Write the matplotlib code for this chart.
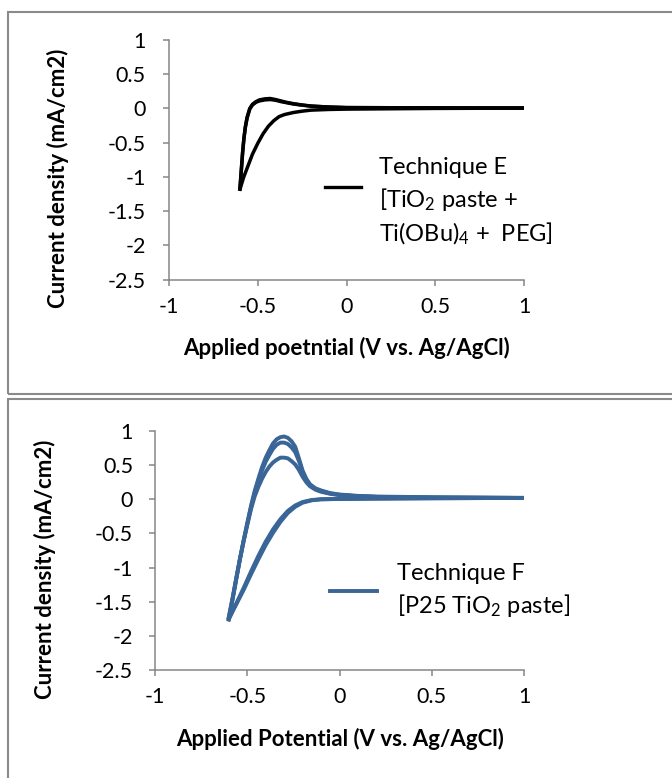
import matplotlib
matplotlib.use("Agg")
import matplotlib.pyplot as plt
from matplotlib.patches import Rectangle
from matplotlib.lines import Line2D
from matplotlib.legend_handler import HandlerLine2D

plt.rcParams['font.family'] = ['Lato', 'DejaVu Sans']
plt.rcParams['mathtext.fontset'] = 'custom'
plt.rcParams['mathtext.rm'] = 'Lato'
plt.rcParams['mathtext.it'] = 'Lato'
plt.rcParams['mathtext.bf'] = 'Lato:bold'

# ---- data ----
x_ticks = [-1, -0.5, 0, 0.5, 1]
x_tick_labels = ["-1", "-0.5", "0", "0.5", "1"]
y_ticks = [1, 0.5, 0, -0.5, -1, -1.5, -2, -2.5]
y_tick_labels = ["1", "0.5", "0", "-0.5", "-1", "-1.5", "-2", "-2.5"]

# Technique E : cathodic sweep (1 V -> -0.6 V)
E_cath_v = [1.0, 0.5, 0.0, -0.1, -0.2, -0.25, -0.3, -0.35, -0.38, -0.41,
            -0.44, -0.47, -0.5, -0.53, -0.555, -0.58, -0.6]
E_cath_i = [0.005, 0.0, -0.01, -0.015, -0.025, -0.04, -0.06, -0.09, -0.12, -0.18,
            -0.26, -0.37, -0.51, -0.67, -0.84, -1.01, -1.18]
# Technique E : return sweep (-0.6 V -> 1 V), two cycles
E_anod_v = [-0.6, -0.595, -0.59, -0.585, -0.578, -0.57, -0.56, -0.545, -0.53, -0.51,
            -0.49, -0.46, -0.43, -0.4, -0.37, -0.34, -0.3, -0.25, -0.2, -0.1,
            0.0, 0.5, 1.0]
E_anod1_i = [-1.18, -1.0, -0.82, -0.64, -0.44, -0.27, -0.13, 0.0, 0.06, 0.1,
             0.125, 0.14, 0.145, 0.13, 0.11, 0.09, 0.07, 0.05, 0.035, 0.02,
             0.012, 0.008, 0.005]
E_anod2_i = [-1.15, -0.98, -0.8, -0.63, -0.44, -0.28, -0.14, -0.01, 0.05, 0.09,
             0.11, 0.125, 0.13, 0.12, 0.1, 0.085, 0.065, 0.048, 0.033, 0.02,
             0.012, 0.008, 0.005]

# Technique F : cathodic sweeps
F_cath_v = [1.0, 0.5, 0.2, 0.0, -0.1, -0.15, -0.2, -0.24, -0.28, -0.32,
            -0.36, -0.4, -0.44, -0.48, -0.52, -0.56, -0.6]
F_cath1_i = [0.02, 0.015, 0.01, 0.005, 0.0, -0.01, -0.04, -0.09, -0.17, -0.29,
             -0.44, -0.62, -0.83, -1.06, -1.3, -1.53, -1.76]
F_cath2_i = [0.02, 0.015, 0.01, 0.005, 0.0, -0.015, -0.05, -0.11, -0.2, -0.33,
             -0.49, -0.67, -0.88, -1.1, -1.33, -1.54, -1.74]
# Technique F : return sweeps, three cycles
F_anod_v = [-0.6, -0.58, -0.56, -0.54, -0.52, -0.5, -0.48, -0.46, -0.44, -0.42,
            -0.4, -0.38, -0.36, -0.34, -0.32, -0.3, -0.28, -0.26, -0.24, -0.22,
            -0.2, -0.18, -0.16, -0.13, -0.1, -0.05, 0.0, 0.1, 0.2, 0.5, 1.0]
F_anod1_i = [-1.76, -1.48, -1.18, -0.88, -0.61, -0.35, -0.1, 0.12, 0.3, 0.47,
             0.61, 0.72, 0.82, 0.88, 0.91, 0.92, 0.9, 0.85, 0.77, 0.6,
             0.42, 0.3, 0.22, 0.16, 0.13, 0.09, 0.07, 0.05, 0.04, 0.03, 0.02]
F_anod2_i = [-1.74, -1.46, -1.17, -0.88, -0.61, -0.36, -0.12, 0.09, 0.26, 0.42,
             0.55, 0.65, 0.74, 0.8, 0.83, 0.83, 0.81, 0.76, 0.69, 0.56,
             0.4, 0.29, 0.21, 0.15, 0.12, 0.085, 0.065, 0.045, 0.035, 0.025, 0.02]
F_anod3_i = [-1.72, -1.45, -1.16, -0.88, -0.62, -0.38, -0.15, 0.04, 0.18, 0.3,
             0.4, 0.48, 0.54, 0.58, 0.61, 0.61, 0.6, 0.56, 0.51, 0.43,
             0.33, 0.25, 0.19, 0.14, 0.11, 0.08, 0.06, 0.045, 0.035, 0.025, 0.02]

E_label = "Technique E\n[TiO$_2$ paste +\nTi(OBu)$_4$ +  PEG]"
F_label = "Technique F\n[P25 TiO$_2$ paste]"

E_color = "black"
F_color = "#3A6597"
grey = "#868686"

W, H = 672, 778


class ShiftedLine(HandlerLine2D):
    """legend line moved up by dy points"""
    def __init__(self, dy=0, **kw):
        super().__init__(**kw)
        self.dy = dy

    def create_artists(self, legend, orig_handle, xdescent, ydescent,
                       width, height, fontsize, trans):
        return super().create_artists(legend, orig_handle, xdescent,
                                      ydescent - 2 * self.dy, width, height,
                                      fontsize, trans)


def px_axes(fig, left, top, right, bottom):
    return fig.add_axes([left / W, 1 - bottom / H, (right - left) / W, (bottom - top) / H])


def style_axes(ax, ypad):
    ax.set_xlim(-1, 1)
    ax.set_ylim(-2.5, 1)
    ax.set_xticks(x_ticks)
    ax.set_xticklabels(x_tick_labels)
    ax.set_yticks(y_ticks)
    ax.set_yticklabels(y_tick_labels)
    for s in ["top", "right"]:
        ax.spines[s].set_visible(False)
    for s in ["left", "bottom"]:
        ax.spines[s].set_color(grey)
        ax.spines[s].set_linewidth(1.1)
    ax.tick_params(direction="out", length=4.3, width=1.1, color=grey,
                   labelsize=15.5, labelcolor="black")
    ax.tick_params(axis="x", pad=8)
    ax.tick_params(axis="y", pad=ypad)


fig = plt.figure(figsize=(W / 100, H / 100), dpi=100)

# panel frames
fig.patches.append(Rectangle((8 / W, 1 - 394 / H), 1.2, (394 - 12) / H, transform=fig.transFigure,
                             fill=False, edgecolor="#8a8a8a", lw=1.5))
fig.patches.append(Rectangle((8 / W, -0.2), 1.2, 0.2 + 1 - 399 / H, transform=fig.transFigure,
                             fill=False, edgecolor="#8a8a8a", lw=1.5))

# ---- top panel: technique E ----
ax1 = px_axes(fig, 169, 40, 524, 279.5)
ax1.plot(E_cath_v, E_cath_i, color=E_color, lw=2.5, solid_joinstyle="round")
ax1.plot(E_anod_v, E_anod1_i, color=E_color, lw=2.5, solid_joinstyle="round")
ax1.plot(E_anod_v, E_anod2_i, color=E_color, lw=2.5, solid_joinstyle="round")
style_axes(ax1, 12.5)
ax1.set_xlabel("Applied poetntial (V vs. Ag/AgCl)", fontsize=16, fontweight="bold", va="center")
ax1.xaxis.set_label_coords(0.501, -0.286)
ax1.set_ylabel("Current density (mA/cm2)", fontsize=16, fontweight="bold", va="center")
ax1.yaxis.set_label_coords(-0.3127, 0.424)

hE = Line2D([], [], color=E_color, lw=2.4)
legE = ax1.legend([hE], [E_label], loc="center left",
                  bbox_to_anchor=(325 / W, 1 - 202 / H), bbox_transform=fig.transFigure,
                  frameon=False, fontsize=17, handlelength=1.52, handletextpad=0.76,
                  borderpad=0, borderaxespad=0,
                  handler_map={hE: ShiftedLine(dy=11)})
for t in legE.get_texts():
    t.set_linespacing(1.4)

# ---- bottom panel: technique F ----
ax2 = px_axes(fig, 155, 431, 524, 670)
for ci in [F_cath1_i, F_cath2_i]:
    ax2.plot(F_cath_v, ci, color=F_color, lw=2.8, solid_joinstyle="round")
for ai in [F_anod1_i, F_anod2_i, F_anod3_i]:
    ax2.plot(F_anod_v, ai, color=F_color, lw=2.8, solid_joinstyle="round")
style_axes(ax2, 11.5)
ax2.set_xlabel("Applied Potential (V vs. Ag/AgCl)", fontsize=16, fontweight="bold", va="center")
ax2.xaxis.set_label_coords(0.501, -0.289)
ax2.set_ylabel("Current density (mA/cm2)", fontsize=16, fontweight="bold", va="center")
ax2.yaxis.set_label_coords(-0.298, 0.4226)

hF = Line2D([], [], color=F_color, lw=2.8)
legF = ax2.legend([hF], [F_label], loc="center left",
                  bbox_to_anchor=(330 / W, 1 - 591 / H), bbox_transform=fig.transFigure,
                  frameon=False, fontsize=17, handlelength=2.0, handletextpad=0.85,
                  borderpad=0, borderaxespad=0)
for t in legF.get_texts():
    t.set_linespacing(1.4)

fig.savefig("out.png", dpi=100)
